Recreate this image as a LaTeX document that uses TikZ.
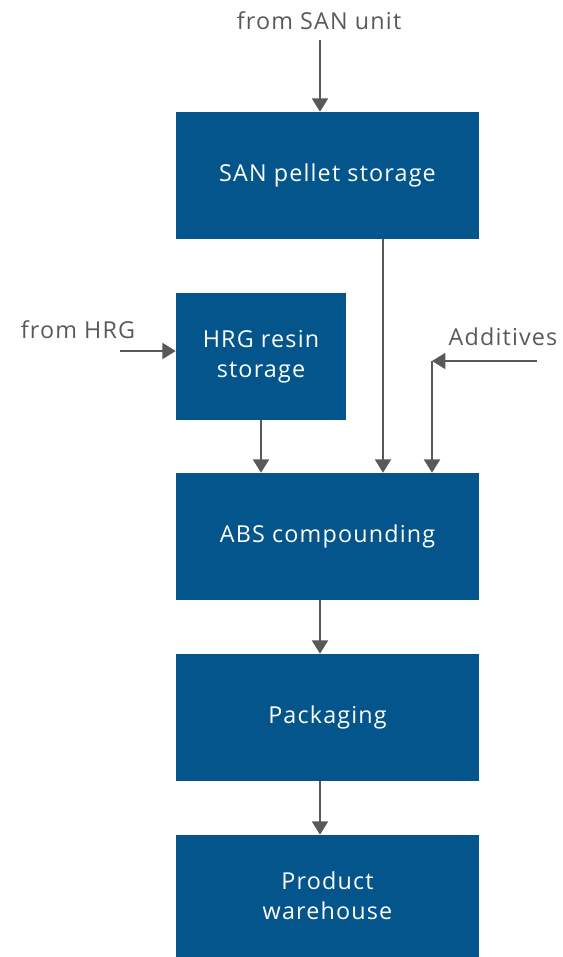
\documentclass[tikz,border=0pt]{standalone}
\usepackage{fontspec}
\setmainfont{Open Sans}[LetterSpace=5]
\usetikzlibrary{arrows.meta}
\definecolor{boxblue}{HTML}{03558C}
\definecolor{linegray}{HTML}{595959}
\tikzset{
  unit/.style={fill=boxblue, text=white, inner sep=0pt, align=center,
    minimum width=227.25pt, minimum height=95.25pt, font=\fontsize{17.5}{22.5}\selectfont},
  flow/.style={draw=linegray, line width=1.5pt, -{Triangle[width=12pt,length=10pt]}},
  lbl/.style={text=linegray, inner sep=0pt, font=\fontsize{17.5}{22}\selectfont}
}
\begin{document}
\begin{tikzpicture}[x=0.75pt, y=-0.75pt]
\useasboundingbox (0,0) rectangle (563,957);

% process units
\node[unit] (san) at (327.5,175.5) {SAN pellet storage};
\node[unit, minimum width=127.5pt] (hrg) at (261,356.5) {HRG resin\\storage};
\node[unit] (abs) at (327.5,536.5) {ABS compounding};
\node[unit] (pack) at (327.5,717.5) {Packaging};
\node[unit, minimum height=91.5pt] (prod) at (327.5,896) {Product\\warehouse};

% feeds
\node[lbl] (sanlbl) at (319,21) {from SAN unit};
\node[lbl] (hrglbl) at (78,330) {from HRG};
\node[lbl] (addlbl) at (503,337) {Additives};
\coordinate (sanin) at (320,40);
\coordinate (hrgin) at (120,351);
\coordinate (addin) at (537,361);
\coordinate (addturn) at (432,361);
\coordinate (sanx) at (383,0);

\draw[flow] (sanin) -- (sanin |- san.north);
\draw[flow] (hrgin) -- (hrgin -| hrg.west);
\draw[flow] (addin) -- (addturn);
\draw[flow] (addturn) -- (addturn |- abs.north);
\draw[flow] (san.south -| sanx) -- (abs.north -| sanx);
\draw[flow] (hrg.south) -- (hrg.south |- abs.north);
\draw[flow] (abs.south -| sanin) -- (pack.north -| sanin);
\draw[flow] (pack.south -| sanin) -- (prod.north -| sanin);

\end{tikzpicture}
\end{document}
